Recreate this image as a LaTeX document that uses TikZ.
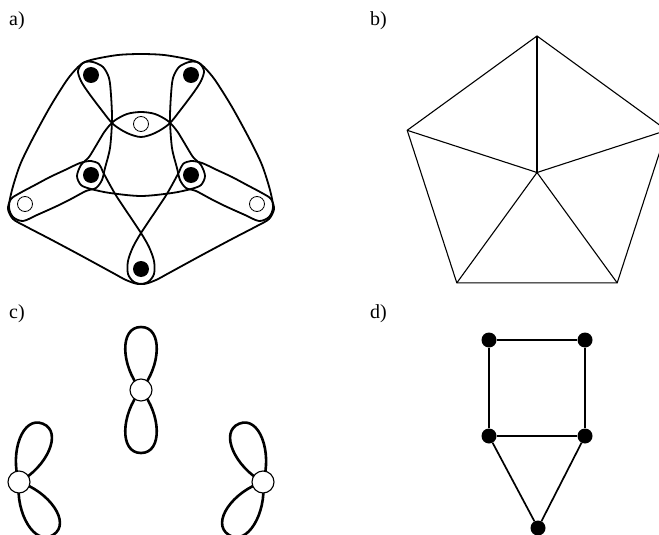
\documentclass[tikz,border=0pt]{standalone}
\usepackage{fontspec}
\setmainfont{Liberation Serif}
\begin{document}
\begin{tikzpicture}[x=1pt,y=-1pt,
  hedge/.style={line width=1.8pt,line join=round},
  bvert/.style={circle,fill=black,inner sep=0pt,minimum size=16pt},
  wvert/.style={circle,draw=black,fill=white,line width=0.8pt,inner sep=0pt,minimum size=15pt},
  cvert/.style={circle,draw=black,fill=white,line width=1.1pt,inner sep=0pt,minimum size=22pt},
  cline/.style={line width=2.6pt},
  wheeledge/.style={line width=1.1pt},
  dedge/.style={line width=1.7pt},
  dvert/.style={circle,fill=black,inner sep=0pt,minimum size=15pt},
  lbl/.style={font=\fontsize{20}{24}\selectfont,anchor=base west,inner sep=0pt},
  petal/.pic={\draw[cline] (0,0) .. controls (24,20) and (63,22) .. (63,0) .. controls (63,-22) and (24,-20) .. (0,0);}
]
\useasboundingbox (0,0) rectangle (659,535);

% labels
\node[lbl] (la) at (9,26) {a)};
\node[lbl] (lb) at (370,26) {b)};
\node[lbl] (lc) at (9,318.5) {c)};
\node[lbl] (ld) at (370,318.5) {d)};

% ---------- a) hypergraph ----------
\begin{scope}[shift={(141,0)}]
  \draw[hedge] plot[smooth cycle] coordinates {(0,137) (-14,133) (-28,124) (-41,108) (-53,92) (-60,81) (-63,71) (-58,63) (-46,59) (-23,55) (0,54) (23,55) (46,59) (58,63) (63,71) (60,81) (53,92) (41,108) (28,124) (14,133)};
  \draw[hedge] plot[smooth cycle] coordinates {(0,112) (14,114) (27,121) (36,131) (44,144) (52,157) (60,165) (64,176) (60,185) (50,189) (31,193) (0,196) (-31,193) (-50,189) (-60,185) (-64,176) (-60,165) (-52,157) (-44,144) (-36,131) (-27,121) (-14,114)};
\end{scope}
\foreach \s in {1,-1}{
\begin{scope}[shift={(141,0)},xscale=\s]
  \draw[hedge] plot[smooth cycle] coordinates {(-48,62) (-38,67) (-32,78) (-30,95) (-29,120) (-31,148) (-36,168) (-39,180) (-45,188) (-55,191) (-70,199) (-84,206) (-104,215) (-118,221) (-128,217) (-132,207) (-129,190) (-121,165) (-109,140) (-91,107) (-74,80) (-63,67) (-56,62)};
  \draw[hedge] plot[smooth cycle] coordinates {(0,233) (8,247) (13,261) (13,274) (7,282) (-3,284) (-15,280) (-28,273) (-61,255) (-91,239) (-116,226) (-128,219) (-133,209) (-130,199) (-121,193) (-106,185) (-91,177) (-76,170) (-61,163) (-50,161) (-42,164) (-38,172) (-31,185) (-24,197) (-12,215)};
\end{scope}}
\node[bvert] (aTL) at (91,75) {};
\node[bvert] (aTR) at (191,75) {};
\node[bvert] (aML) at (91,175) {};
\node[bvert] (aMR) at (191,175) {};
\node[bvert] (aB) at (141,269) {};
\node[wvert] (aWc) at (141,124) {};
\node[wvert] (aWL) at (25,204) {};
\node[wvert] (aWR) at (257,204) {};

% ---------- b) wheel ----------
\coordinate (p0) at (537,172.5);
\coordinate (p1) at (537,36);
\coordinate (p2) at (407.2,130.3);
\coordinate (p3) at (456.8,282.9);
\coordinate (p4) at (617.2,282.9);
\coordinate (p5) at (666.8,130.3);
\draw[wheeledge] (p1) -- (p2) -- (p3) -- (p4) -- (p5) -- cycle;
\foreach \i in {1,...,5}{\draw[wheeledge] (p0) -- (p\i);}

% ---------- c) loops ----------
\coordinate (cC) at (141,390);
\coordinate (cL) at (19,482);
\coordinate (cR) at (263,482);
\pic[rotate=90] at (cC) {petal};
\pic[rotate=-90] at (cC) {petal};
\pic[rotate=67.7] at (cL) {petal};
\pic[rotate=-57] at (cL) {petal};
\pic[rotate=112.3] at (cR) {petal};
\pic[rotate=-123] at (cR) {petal};
\node[cvert] (vC) at (cC) {};
\node[cvert] (vL) at (cL) {};
\node[cvert] (vR) at (cR) {};

% ---------- d) house graph ----------
\node[dvert] (d1) at (489,340) {};
\node[dvert] (d2) at (585,340) {};
\node[dvert] (d3) at (489,436) {};
\node[dvert] (d4) at (585,436) {};
\node[dvert] (d5) at (538,528) {};
\draw[dedge] (d1) -- (d2) -- (d4) -- (d3) -- (d1);
\draw[dedge] (d3) -- (d5) -- (d4);
\end{tikzpicture}
\end{document}
